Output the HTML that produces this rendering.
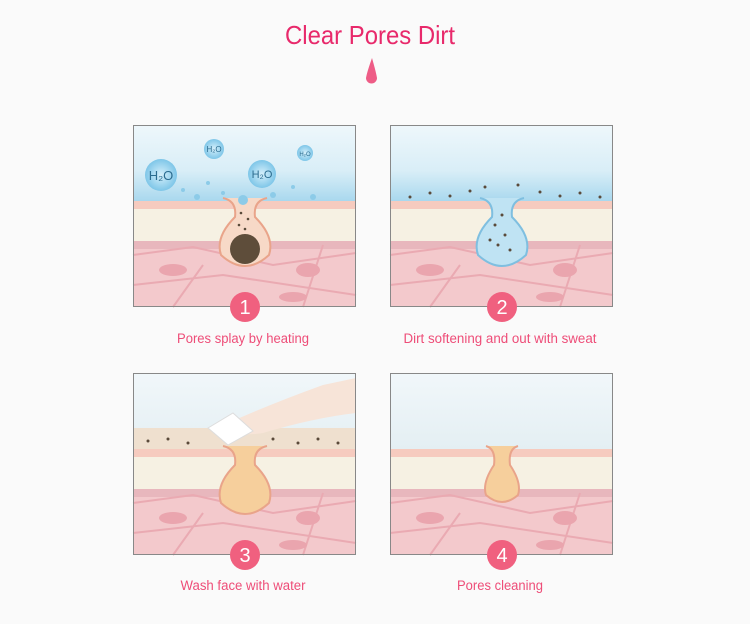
<!DOCTYPE html>
<html><head><style>
body{margin:0;background:#fafafa;width:750px;height:619px;overflow:hidden;font-family:"Liberation Sans",sans-serif}
</style></head><body>
<svg width="750" height="619" viewBox="0 0 750 619" xmlns="http://www.w3.org/2000/svg">
<defs>
<linearGradient id="sky" x1="0" y1="0" x2="0" y2="1"><stop offset="0" stop-color="#eef7fb"/><stop offset="0.6" stop-color="#d9eef7"/><stop offset="1" stop-color="#a9d8ee"/></linearGradient>
<linearGradient id="sky2" x1="0" y1="0" x2="0" y2="1"><stop offset="0" stop-color="#f1f7fa"/><stop offset="1" stop-color="#e4eff3"/></linearGradient>
<radialGradient id="bub"><stop offset="0" stop-color="#d6f0fb"/><stop offset="1" stop-color="#7ec6e8"/></radialGradient>
<g id="skin">
<rect x="0" y="0" width="223" height="182" fill="#f6dede"/>
<rect x="0" y="78" width="223" height="104" fill="#f3c9cc"/>
<path d="M0 73 Q112 66 223 73 L223 90 L0 90Z" fill="#f6cbbf"/>
<rect x="0" y="84" width="223" height="32" fill="#f6f1e3"/>
<path d="M0 116 L223 116 L223 124 L0 124Z" fill="#e8b7bd"/>
<path d="M0 130 L60 122 L140 140 L223 128 M0 160 L90 150 L223 170 M40 182 L70 140 M170 182 L190 120" stroke="#eaaab2" stroke-width="2" fill="none"/>
<ellipse cx="40" cy="145" rx="14" ry="6" fill="#eaa5ae"/>
<ellipse cx="175" cy="145" rx="12" ry="7" fill="#eaa5ae"/>
<ellipse cx="160" cy="172" rx="14" ry="5" fill="#eaa5ae"/>
</g>
<path id="pore" d="M90 73 Q104 76 102 92 Q82 112 88 130 Q112 152 136 130 Q142 112 122 92 Q120 76 134 73" fill="#f7d9c7" stroke="#e9a48a" stroke-width="2"/>
</defs>

<text x="370" y="44" text-anchor="middle" font-size="26" fill="#e8296b" textLength="170" lengthAdjust="spacingAndGlyphs">Clear Pores Dirt</text>
<path d="M372 58 Q376 72 377 78 A5.5 5.5 0 1 1 366 78 Q367 72 372 58Z" fill="#ee5c86"/>

<!-- Panel 1 -->
<g transform="translate(133,125)">
<use href="#skin"/>
<rect x="0" y="0" width="223" height="76" fill="url(#sky)"/>
<use href="#pore"/>
<circle cx="112" cy="124" r="15" fill="#5e4d3a"/>
<g fill="#5a4a3a"><circle cx="108" cy="88" r="1.3"/><circle cx="115" cy="94" r="1.3"/><circle cx="106" cy="100" r="1.3"/><circle cx="112" cy="104" r="1.3"/></g>
<circle cx="28" cy="50" r="16" fill="url(#bub)"/><text x="28" y="55" font-size="13" text-anchor="middle" fill="#2b6c8f">H₂O</text>
<circle cx="129" cy="49" r="14" fill="url(#bub)"/><text x="129" y="53" font-size="11" text-anchor="middle" fill="#2b6c8f">H₂O</text>
<circle cx="81" cy="24" r="10" fill="url(#bub)"/><text x="81" y="27" font-size="8" text-anchor="middle" fill="#2b6c8f">H₂O</text>
<circle cx="172" cy="28" r="8" fill="url(#bub)"/><text x="172" y="31" font-size="6" text-anchor="middle" fill="#2b6c8f">H₂O</text>
<g fill="#8ccbe8"><circle cx="64" cy="72" r="3"/><circle cx="110" cy="75" r="5"/><circle cx="90" cy="68" r="2"/><circle cx="140" cy="70" r="3"/><circle cx="160" cy="62" r="2"/><circle cx="50" cy="65" r="2"/><circle cx="75" cy="58" r="2"/><circle cx="180" cy="72" r="3"/></g>
<rect x="0.5" y="0.5" width="222" height="181" fill="none" stroke="#888"/>
</g>
<circle cx="245" cy="307" r="15" fill="#f0607f"/><text x="245" y="314" font-size="20" text-anchor="middle" fill="#fff">1</text>
<text x="243" y="343" font-size="13.5" text-anchor="middle" fill="#ee4d78" textLength="132" lengthAdjust="spacingAndGlyphs">Pores splay by heating</text>

<!-- Panel 2 -->
<g transform="translate(390,125)">
<use href="#skin"/>
<rect x="0" y="0" width="223" height="76" fill="url(#sky)"/>
<path d="M90 73 Q104 76 102 92 Q82 112 88 130 Q112 152 136 130 Q142 112 122 92 Q120 76 134 73" fill="#bfe3f3" stroke="#7fbfe0" stroke-width="2"/>
<g fill="#5a4a3a"><circle cx="20" cy="72" r="1.5"/><circle cx="40" cy="68" r="1.5"/><circle cx="60" cy="71" r="1.5"/><circle cx="80" cy="66" r="1.5"/><circle cx="150" cy="67" r="1.5"/><circle cx="170" cy="71" r="1.5"/><circle cx="190" cy="68" r="1.5"/><circle cx="210" cy="72" r="1.5"/><circle cx="105" cy="100" r="1.5"/><circle cx="115" cy="110" r="1.5"/><circle cx="108" cy="120" r="1.5"/><circle cx="120" cy="125" r="1.5"/><circle cx="100" cy="115" r="1.5"/><circle cx="112" cy="90" r="1.5"/><circle cx="128" cy="60" r="1.5"/><circle cx="95" cy="62" r="1.5"/></g>
<rect x="0.5" y="0.5" width="222" height="181" fill="none" stroke="#888"/>
</g>
<circle cx="502" cy="307" r="15" fill="#f0607f"/><text x="502" y="314" font-size="20" text-anchor="middle" fill="#fff">2</text>
<text x="500" y="343" font-size="13.5" text-anchor="middle" fill="#ee4d78" textLength="193" lengthAdjust="spacingAndGlyphs">Dirt softening and out with sweat</text>

<!-- Panel 3 -->
<g transform="translate(133,373)">
<use href="#skin"/>
<rect x="0" y="0" width="223" height="76" fill="url(#sky2)"/>
<rect x="0" y="55" width="223" height="21" fill="#efe0cf"/>
<path d="M90 73 Q104 76 102 92 Q82 112 88 130 Q112 152 136 130 Q142 112 122 92 Q120 76 134 73" fill="#f6cf9c" stroke="#e9a48a" stroke-width="2"/>
<path d="M95 50 Q140 30 190 12 L223 5 L223 40 Q180 45 130 60 Q100 65 95 50Z" fill="#f7e4d8"/>
<path d="M75 55 L100 40 L120 58 L95 72Z" fill="#fff" stroke="#ddd"/>
<g fill="#5a4a3a"><circle cx="15" cy="68" r="1.5"/><circle cx="35" cy="66" r="1.5"/><circle cx="55" cy="70" r="1.5"/><circle cx="140" cy="66" r="1.5"/><circle cx="165" cy="70" r="1.5"/><circle cx="185" cy="66" r="1.5"/><circle cx="205" cy="70" r="1.5"/></g>
<rect x="0.5" y="0.5" width="222" height="181" fill="none" stroke="#888"/>
</g>
<circle cx="245" cy="555" r="15" fill="#f0607f"/><text x="245" y="562" font-size="20" text-anchor="middle" fill="#fff">3</text>
<text x="243" y="590" font-size="13.5" text-anchor="middle" fill="#ee4d78" textLength="125" lengthAdjust="spacingAndGlyphs">Wash face with water</text>

<!-- Panel 4 -->
<g transform="translate(390,373)">
<use href="#skin"/>
<rect x="0" y="0" width="223" height="76" fill="url(#sky2)"/>
<path d="M96 73 Q106 76 104 92 Q92 110 96 122 Q112 136 128 122 Q132 110 120 92 Q118 76 128 73" fill="#f6cf9c" stroke="#e9a48a" stroke-width="2"/>
<rect x="0.5" y="0.5" width="222" height="181" fill="none" stroke="#888"/>
</g>
<circle cx="502" cy="555" r="15" fill="#f0607f"/><text x="502" y="562" font-size="20" text-anchor="middle" fill="#fff">4</text>
<text x="500" y="590" font-size="13.5" text-anchor="middle" fill="#ee4d78" textLength="86" lengthAdjust="spacingAndGlyphs">Pores cleaning</text>
</svg>
</body></html>
